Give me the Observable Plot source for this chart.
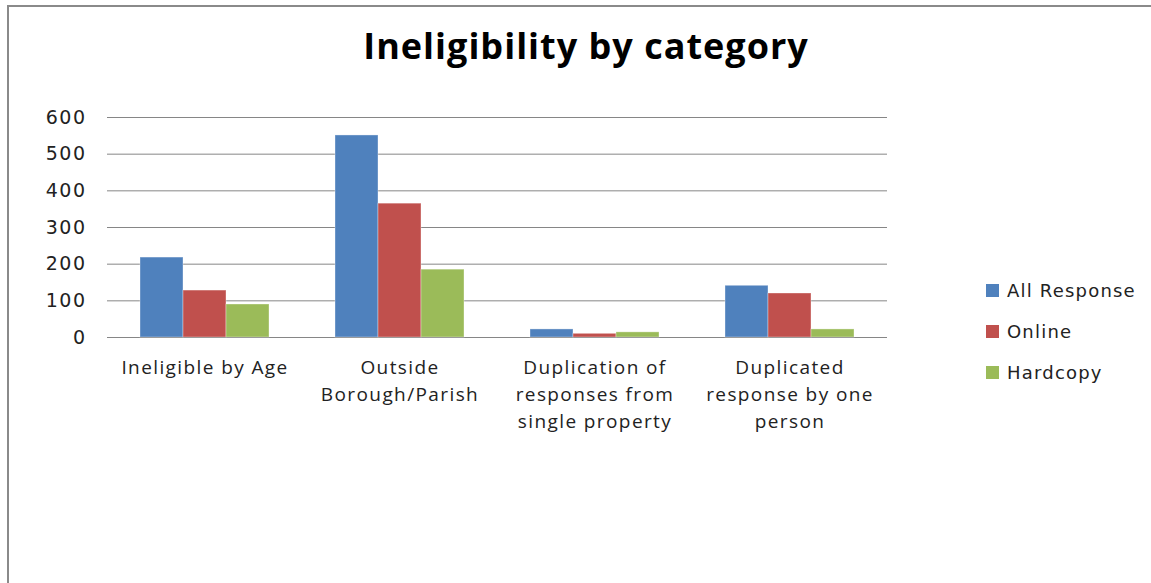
<!DOCTYPE html>
<html>
<head>
<meta charset="utf-8">
<script src="https://cdn.jsdelivr.net/npm/d3@7"></script>
<script src="https://cdn.jsdelivr.net/npm/@observablehq/plot@0.6"></script>
<style>
  html, body { margin: 0; padding: 0; background: #fff; }
  #wrap { position: relative; width: 1151px; height: 583px; overflow: hidden; }
  #frame { position: absolute; left: 7px; top: 5px; width: 1200px; height: 700px;
           border-left: 2px solid #8a8a8a; border-top: 2px solid #8a8a8a; box-sizing: border-box; }
  #title { position: absolute; left: 0; width: 1172px; top: 24px; text-align: center;
           font-family: "Open Sans", Lato, sans-serif; font-weight: bold; font-size: 36px; letter-spacing: 1px; color: #000; line-height: 1.2; }
  #chart { position: absolute; left: 0; top: 0; }
  #chart g[aria-label="fx-axis tick label"] text { letter-spacing: 1.4px; }
  #chart g[aria-label="y-axis tick label"] text { letter-spacing: 1.5px; }
  #legend { position: absolute; left: 986px; top: 270px; font-family: "DejaVu Sans", sans-serif; font-size: 18px; letter-spacing: 1.2px; color: #222; }
  .item { display: flex; align-items: center; height: 41px; }
  .sw { width: 13px; height: 13px; margin-right: 8px; }
</style>
</head>
<body>
<div id="wrap">
  <div id="frame"></div>
  <div id="title">Ineligibility by category</div>
  <div id="chart"></div>
  <div id="legend"></div>
</div>
<script>
const categories = ["Ineligible by Age", "Outside Borough/Parish", "Duplication of responses from single property", "Duplicated response by one person"];
const categoryLabels = ["Ineligible by Age", "Outside\nBorough/Parish", "Duplication of\nresponses from\nsingle property", "Duplicated\nresponse by one\nperson"];
const series = ["All Response", "Online", "Hardcopy"];
const allResponse = [218, 551, 22, 141];
const online = [128, 365, 10, 120];
const hardcopy = [90, 185, 14, 22];
const colors = ["#4F81BD", "#C0504D", "#9BBB59"];
const yTicks = [0, 100, 200, 300, 400, 500, 600];

const values = [allResponse, online, hardcopy];
const data = [];
categories.forEach((c, i) => series.forEach((s, j) => data.push({category: c, series: s, value: values[j][i]})));
const labelOf = new Map(categories.map((c, i) => [c, categoryLabels[i]]));

const chart = Plot.plot({
  width: 1151,
  height: 583,
  marginLeft: 106,
  marginRight: 263,
  marginTop: 117,
  marginBottom: 246,
  style: {fontFamily: "DejaVu Sans, sans-serif", fontSize: "16px", color: "#222", background: "transparent"},
  fx: {domain: categories, padding: 0, label: null},
  x: {domain: series, paddingInner: 0, paddingOuter: 0.747, axis: null},
  y: {domain: [0, 600], axis: null},
  color: {domain: series, range: colors},
  marks: [
    Plot.ruleY(yTicks, {stroke: "#868686", strokeWidth: 1}),
    Plot.barY(data, {fx: "category", x: "series", y: "value", fill: "series", stroke: "#ffffff", strokeOpacity: 0.35, strokeWidth: 1}),
    Plot.axisFx({anchor: "bottom", tickSize: 0, tickPadding: 17, lineHeight: 1.42,
      tickFormat: d => labelOf.get(d), fontFamily: "Open Sans, sans-serif", fontSize: 19, label: null}),
    Plot.axisY(yTicks, {anchor: "left", tickSize: 0, tickPadding: 21, fontSize: 19, label: null})
  ]
});
document.getElementById("chart").appendChild(chart);

const legend = document.getElementById("legend");
series.forEach((s, i) => {
  const it = document.createElement("div");
  it.className = "item";
  const sw = document.createElement("div");
  sw.className = "sw";
  sw.style.background = colors[i];
  const t = document.createElement("span");
  t.textContent = s;
  it.appendChild(sw); it.appendChild(t);
  legend.appendChild(it);
});
</script>
</body>
</html>
